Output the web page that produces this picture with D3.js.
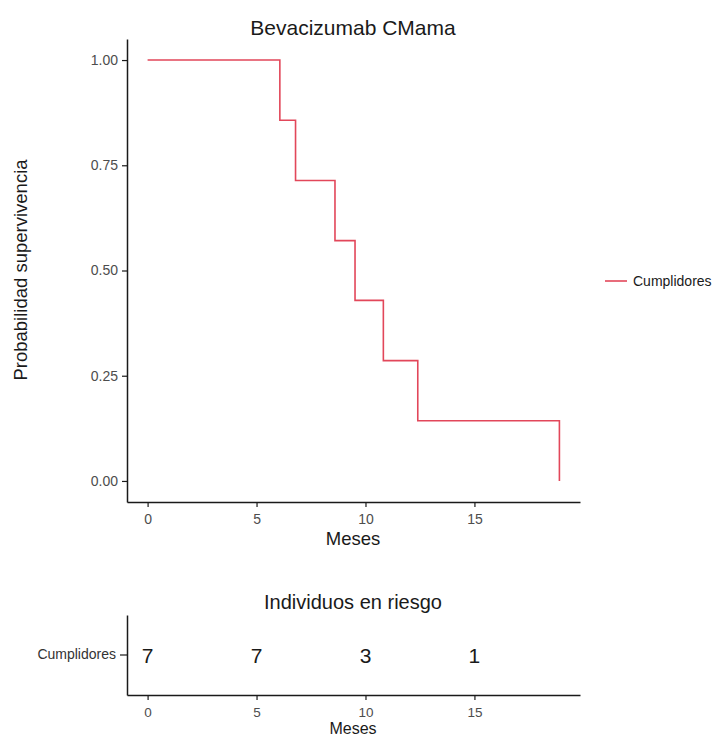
<!DOCTYPE html>
<html>
<head>
<meta charset="utf-8">
<script src="https://cdn.jsdelivr.net/npm/d3@7"></script>
<style>
  html, body { margin: 0; padding: 0; background: #fff; }
  svg { display: block; font-family: "Liberation Sans", Arial, Helvetica, sans-serif; }
</style>
</head>
<body>
<svg id="chart" width="718" height="736"></svg>
<script>
// ---- data ----
const seriesName = "Cumplidores";
const times = [0, 6.07, 6.79, 8.6, 9.52, 10.82, 12.4, 18.9];
const survival = [1, 0.857, 0.714, 0.571, 0.429, 0.286, 0.143, 0];
const xTicks = [0, 5, 10, 15];
const yTicks = [0, 0.25, 0.5, 0.75, 1];
const yTickLabels = ["0.00", "0.25", "0.50", "0.75", "1.00"];
const riskTimes = [0, 5, 10, 15];
const riskCounts = [7, 7, 3, 1];
const riskRows = ["Cumplidores"];
const titleMain = "Bevacizumab CMama";
const titleRisk = "Individuos en riesgo";
const xLabel = "Meses";
const yLabel = "Probabilidad supervivencia";

// ---- setup ----
const svg = d3.select("#chart");
const lineColor = "#e2475a";
const axisColor = "#1a1a1a";
const tickTextColor = "#4d4d4d";

const x = d3.scaleLinear().domain([-0.945, 19.845]).range([127, 580]);
const y = d3.scaleLinear().domain([-0.05, 1.05]).range([502, 39]);

function styleAxis(g) {
  g.select(".domain").attr("stroke", axisColor).attr("stroke-width", 1.5);
  g.selectAll(".tick line").attr("stroke", axisColor).attr("stroke-width", 1.2);
  g.selectAll(".tick text").attr("fill", tickTextColor)
    .attr("font-size", "14px")
    .attr("font-family", "'Liberation Sans', Arial, sans-serif");
}

// main title
svg.append("text").attr("x", 353).attr("y", 27).attr("text-anchor", "middle")
  .attr("dominant-baseline", "central").attr("font-size", "21px").attr("fill", "#1a1a1a")
  .text(titleMain);

// y axis
const yAxis = svg.append("g").attr("transform", "translate(127,0)")
  .call(d3.axisLeft(y).tickValues(yTicks).tickFormat((d, i) => yTickLabels[i]).tickSize(5).tickPadding(4).tickSizeOuter(0));
styleAxis(yAxis);

// x axis
const xAxis = svg.append("g").attr("transform", "translate(0,502)")
  .call(d3.axisBottom(x).tickValues(xTicks).tickSize(5).tickPadding(7).tickSizeOuter(0));
styleAxis(xAxis);

// axis titles
svg.append("text").attr("x", 353).attr("y", 538).attr("text-anchor", "middle")
  .attr("dominant-baseline", "central").attr("font-size", "18.5px").attr("fill", "#1a1a1a")
  .text(xLabel);
svg.append("text").attr("transform", "translate(20,270) rotate(-90)").attr("text-anchor", "middle")
  .attr("dominant-baseline", "central").attr("font-size", "18.5px").attr("fill", "#1a1a1a")
  .text(yLabel);

// survival curve
const pts = times.map((t, i) => [t, survival[i]]);
svg.append("path").datum(pts)
  .attr("fill", "none").attr("stroke", lineColor).attr("stroke-width", 1.6)
  .attr("d", d3.line().x(d => x(d[0])).y(d => y(d[1])).curve(d3.curveStepAfter));

// legend
svg.append("line").attr("x1", 605).attr("x2", 627).attr("y1", 281).attr("y2", 281)
  .attr("stroke", lineColor).attr("stroke-width", 1.6);
svg.append("text").attr("x", 633).attr("y", 281).attr("dominant-baseline", "central")
  .attr("font-size", "14px").attr("fill", "#1a1a1a").text(seriesName);

// ---- risk table ----
const yr = d3.scaleBand().domain(riskRows).range([615, 695]);
svg.append("text").attr("x", 353).attr("y", 602).attr("text-anchor", "middle")
  .attr("dominant-baseline", "central").attr("font-size", "20px").attr("fill", "#1a1a1a")
  .text(titleRisk);

const ryAxis = svg.append("g").attr("transform", "translate(127,0)")
  .call(d3.axisLeft(yr).tickSize(7).tickPadding(4).tickSizeOuter(0));
styleAxis(ryAxis);
ryAxis.selectAll(".tick text").attr("fill", "#333");

const rxAxis = svg.append("g").attr("transform", "translate(0,695)")
  .call(d3.axisBottom(x).tickValues(xTicks).tickSize(5).tickPadding(7).tickSizeOuter(0));
styleAxis(rxAxis);
rxAxis.selectAll(".tick text").attr("font-size", "13.5px");

svg.append("text").attr("x", 353).attr("y", 728).attr("text-anchor", "middle")
  .attr("dominant-baseline", "central").attr("font-size", "16px").attr("fill", "#1a1a1a")
  .text(xLabel);

svg.append("g").selectAll("text").data(riskTimes).join("text")
  .attr("x", d => x(d)).attr("y", yr(riskRows[0]) + yr.bandwidth() / 2)
  .attr("text-anchor", "middle").attr("dominant-baseline", "central")
  .attr("font-size", "21px").attr("fill", "#1a1a1a")
  .text((d, i) => riskCounts[i]);
</script>
</body>
</html>
